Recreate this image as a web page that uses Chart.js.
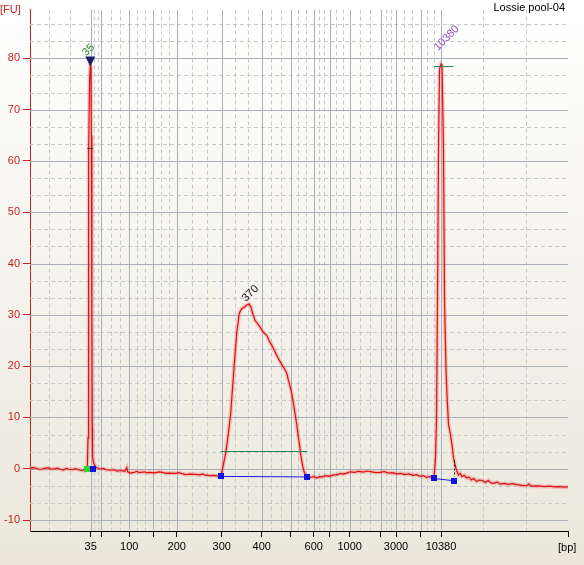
<!DOCTYPE html>
<html>
<head>
<meta charset="utf-8">
<script src="https://cdn.jsdelivr.net/npm/chart.js@4.4.0/dist/chart.umd.min.js"></script>
<style>
  html, body { margin: 0; padding: 0; background: #efede3; }
  canvas { display: block; }
</style>
</head>
<body>
<canvas id="epg" width="584" height="565"></canvas>
<script>
// migration time (s) vs fluorescence (FU)
const migrationTime = [
  20.14, 20.8, 21.4, 22.0, 22.6, 23.2, 23.8, 24.4, 25.0, 25.6, 26.2, 26.8, 27.4, 28.0, 28.6,
  29.2, 29.8, 30.2, 30.6, 31.0, 31.2, 31.6,
  31.74, 31.82, 31.92, 32.06, 32.2, 32.32, 32.42, 32.52, 32.6, 32.66, 32.8, 33.0, 33.34, 33.7,
  34.14, 34.8, 35.4, 36.14, 36.9, 37.6, 38.3, 39.1, 39.5, 39.7, 40.14, 41.0, 41.5, 42.0, 43.0,
  43.6, 44.1, 45.2, 45.9, 46.7, 47.3, 48.0, 49.3, 49.9, 50.6, 51.3, 52.1, 53.2, 54.1, 54.6,
  55.2, 56.1, 57.0, 57.7, 58.28,
  58.7, 59.34, 59.8, 60.28, 60.65, 61.0, 61.48, 62.0, 62.48, 63.0, 63.5, 63.94, 64.3, 64.7,
  65.14, 65.6, 66.14, 66.8, 67.48, 68.0, 68.48, 69.1, 69.8, 70.5, 71.14, 71.5, 71.8, 72.15,
  72.48, 72.8, 73.14, 73.5, 73.8, 74.1, 74.34, 74.7, 75.0, 75.6,
  76.3, 76.9, 77.48, 78.0, 78.6, 79.3, 80.14, 80.8, 81.5, 82.2, 82.8, 83.48, 84.2, 85.0, 85.9,
  86.8, 87.6, 88.5, 89.3, 90.14, 91.0, 91.8, 92.6, 93.48, 94.3, 95.1, 95.9, 96.8, 97.5, 98.2,
  98.8, 99.48, 100.0, 100.5, 100.94,
  101.24, 101.44, 101.64, 101.84, 102.04, 102.34, 102.54, 102.84, 103.04, 103.34, 103.54,
  103.84, 104.14, 104.54, 104.84, 105.34, 105.84, 106.2, 106.5, 107.0, 107.48, 107.9, 108.4,
  108.9, 109.48, 110.0, 110.6, 111.2, 111.8, 112.4, 113.0, 113.6, 114.14, 115.0, 115.8, 116.6,
  117.48, 118.5, 119.48, 119.9, 120.4, 121.8, 123.0, 124.14, 125.0, 126.0, 127.0, 127.74
];
const fluorescence = [
  0.05, 0.2, 0.1, -0.1, -0.05, 0.1, 0.15, -0.1, 0.0, 0.1, -0.1, -0.25, 0.05, -0.1, -0.2,
  0.0, -0.15, -0.3, -0.35, -0.2, -0.4, -0.2,
  6, 30, 62, 75.7, 78.6, 78.2, 65, 30, 8, 2.4, 1.4, 0.8, 0.3, 0.1,
  -0.05, 0.05, -0.2, -0.3, -0.2, -0.45, -0.35, -0.5, 0.2, -0.6, -0.85, -0.7, -0.5, -0.75, -0.6,
  -0.8, -0.7, -0.8, -0.6, -0.7, -0.9, -0.85, -0.9, -0.75, -0.95, -1.15, -1.05, -1.1, -1.2, -1.0,
  -1.25, -1.35, -1.3, -1.45, -1.5,
  0.2, 3.4, 6.8, 10.8, 15.8, 20.5, 26.4, 30.3, 31.2, 31.5, 31.9, 32.1, 31.6, 30.2,
  28.9, 28.4, 27.6, 26.6, 26.0, 24.9, 24.1, 22.9, 21.5, 20.3, 19.3, 18.6, 17.3, 16.1,
  14.7, 12.9, 10.8, 8.5, 6.3, 4.3, 2.4, 0.4, -0.7, -1.6,
  -1.7, -1.5, -1.8, -1.55, -1.6, -1.35, -1.5, -1.2, -1.2, -0.9, -1.05, -0.85, -0.6, -0.7, -0.5,
  -0.65, -0.45, -0.6, -0.75, -0.7, -0.55, -0.85, -0.75, -1.0, -0.9, -1.15, -1.0, -1.3, -1.15, -1.5,
  -1.35, -1.7, -1.5, -1.75, -1.9,
  2.1, 9.5, 32.9, 62, 77.8, 78.9, 78.7, 62, 32.9, 19.2, 14.4,
  8.6, 7.2, 4.7, 2.1, 0.0, -1.2, -0.9, -1.5, -1.3, -1.8, -1.6, -2.2,
  -1.9, -2.5, -2.2, -2.3, -2.7, -2.3, -2.8, -2.8, -2.6, -3.0, -2.85, -3.05, -2.9,
  -3.1, -3.25, -3.3, -3.0, -3.4, -3.35, -3.5, -3.4, -3.55, -3.5, -3.6, -3.55
];

// ladder sizes (bp) and their migration times
const ladderSizes = [35, 50, 100, 150, 200, 300, 400, 500, 600, 700, 1000, 2000, 3000, 7000, 10380];
const ladderTimes = [32.28, 34.4, 40.0, 44.8, 49.48, 58.48, 66.48, 72.28, 76.88, 80.08, 84.08, 90.28, 93.34, 98.28, 102.34];
const shownSizes = [35, 100, 200, 300, 400, 600, 1000, 3000, 10380];
const outerMinorTimes = [24.0, 28.14, 110.8, 119.26];

const yTicks = [-10, 0, 10, 20, 30, 40, 50, 60, 70, 80];

// called peaks
const peakLabels = ['35', '370', '10380'];
const peakTimes = [32.2, 63.94, 102.34];
const peakHeights = [78.4, 32.1, 78.9];

// smear region 300-600 bp and marker baselines
const regionTimes = [58.28, 75.6];
const regionBase = [-1.5, -1.6];
const regionLevel = 3.45;
const upperMarkerTimes = [100.94, 104.94];
const upperMarkerBase = [-1.9, -2.35];

const X_MIN = 20.14, X_MAX = 127.74;
const Y_MIN = -12.14, Y_MAX = 89.5;
const RED = '#cc1f1f';
const FONT = '11px "Liberation Sans", Arial, sans-serif';

const epgPlugin = {
  id: 'epg',
  beforeDraw(chart) {
    const { ctx, width, height } = chart;
    const g = ctx.createLinearGradient(0, 0, 0, height);
    g.addColorStop(0, '#ffffff');
    g.addColorStop(1, '#eae7da');
    ctx.save();
    ctx.fillStyle = g;
    ctx.fillRect(0, 0, width, height);
    ctx.restore();
  },
  beforeDatasetsDraw(chart) {
    const { ctx, chartArea: a, scales: { x, y } } = chart;
    ctx.save();
    ctx.beginPath();
    ctx.rect(a.left, a.top, a.right - a.left, a.bottom - a.top);
    ctx.clip();
    ctx.lineWidth = 1;

    // minor dashed lines
    const minorX = outerMinorTimes.slice();
    for (let i = 0; i < ladderTimes.length - 1; i++) {
      const d = (ladderTimes[i + 1] - ladderTimes[i]) / 3;
      minorX.push(ladderTimes[i] + d, ladderTimes[i] + 2 * d);
    }
    const minorY = [];
    for (let v = -10; v < 90; v += 10) minorY.push(v + 10 / 3, v + 20 / 3);
    minorY.push(-10 - 10 / 3);

    ctx.strokeStyle = '#c8c8c8';
    ctx.setLineDash([4, 3]);
    ctx.beginPath();
    minorX.forEach(t => {
      const px = Math.round(x.getPixelForValue(t)) + 0.5;
      ctx.moveTo(px, a.top); ctx.lineTo(px, a.bottom);
    });
    minorY.forEach(v => {
      const py = Math.round(y.getPixelForValue(v)) + 0.5;
      ctx.moveTo(a.left, py); ctx.lineTo(a.right, py);
    });
    ctx.stroke();

    // major solid lines
    ctx.setLineDash([]);
    ctx.strokeStyle = '#a9b0bc';
    ctx.beginPath();
    ladderTimes.forEach(t => {
      const px = Math.round(x.getPixelForValue(t)) + 0.5;
      ctx.moveTo(px, a.top); ctx.lineTo(px, a.bottom);
    });
    yTicks.forEach(v => {
      const py = Math.round(y.getPixelForValue(v)) + 0.5;
      ctx.moveTo(a.left, py); ctx.lineTo(a.right, py);
    });
    ctx.stroke();
    ctx.restore();
  },
  afterDatasetsDraw(chart) {
    const { ctx, scales: { x, y } } = chart;
    const px = t => x.getPixelForValue(t);
    const py = v => y.getPixelForValue(v);
    ctx.save();

    // region level line (green) and baselines (blue)
    ctx.lineWidth = 1;
    ctx.strokeStyle = '#24885a';
    ctx.beginPath();
    ctx.moveTo(px(regionTimes[0]), Math.round(py(regionLevel)) + 0.5);
    ctx.lineTo(px(regionTimes[1]), Math.round(py(regionLevel)) + 0.5);
    ctx.moveTo(px(upperMarkerTimes[0]), Math.round(py(78.6)) + 0.5);
    ctx.lineTo(px(104.8), Math.round(py(78.6)) + 0.5);
    ctx.stroke();

    ctx.strokeStyle = '#1a1ae0';
    ctx.beginPath();
    ctx.moveTo(px(regionTimes[0]), py(regionBase[0]));
    ctx.lineTo(px(regionTimes[1]), py(regionBase[1]));
    ctx.moveTo(px(upperMarkerTimes[0]), py(upperMarkerBase[0]));
    ctx.lineTo(px(upperMarkerTimes[1]), py(upperMarkerBase[1]));
    ctx.stroke();

    // black dashed drop at end of upper marker
    ctx.strokeStyle = '#111';
    ctx.setLineDash([2, 2]);
    ctx.beginPath();
    ctx.moveTo(Math.round(px(104.86)) + 0.5, py(1.6));
    ctx.lineTo(Math.round(px(104.86)) + 0.5, py(-1.6));
    ctx.stroke();
    ctx.setLineDash([]);

    // half-height tick on lower marker
    ctx.strokeStyle = '#333';
    ctx.beginPath();
    ctx.moveTo(px(31.6), Math.round(py(62.6)) + 0.5);
    ctx.lineTo(px(32.8), Math.round(py(62.6)) + 0.5);
    ctx.stroke();

    // end squares
    const square = (t, v, c) => {
      ctx.fillStyle = c;
      ctx.fillRect(Math.round(px(t)) - 3, Math.round(py(v)) - 3, 6, 6);
    };
    square(31.6, 0, '#27d827');
    square(32.8, 0, '#1010e8');
    square(regionTimes[0], regionBase[0], '#1010e8');
    square(regionTimes[1], regionBase[1], '#1010e8');
    square(upperMarkerTimes[0], upperMarkerBase[0], '#1010e8');
    square(upperMarkerTimes[1], upperMarkerBase[1], '#1010e8');

    // triangle on lower marker
    const tx = px(peakTimes[0]);
    const ty = py(peakHeights[0]);
    ctx.fillStyle = '#1d1d6e';
    ctx.beginPath();
    ctx.moveTo(tx - 5, ty - 10);
    ctx.lineTo(tx + 5, ty - 10);
    ctx.lineTo(tx, ty);
    ctx.closePath();
    ctx.fill();

    // rotated peak labels
    const colors = ['#2a8a2a', '#111111', '#9a4fd0'];
    const offs = [[-4, -10], [-3, -2], [-3, -13]];
    ctx.font = FONT;
    ctx.textAlign = 'left';
    ctx.textBaseline = 'alphabetic';
    peakLabels.forEach((lab, i) => {
      ctx.save();
      ctx.translate(px(peakTimes[i]) + offs[i][0], py(peakHeights[i]) + offs[i][1]);
      ctx.rotate(-Math.PI / 4);
      ctx.fillStyle = colors[i];
      ctx.fillText(lab, 0, 0);
      ctx.restore();
    });
    ctx.restore();
  },
  afterDraw(chart) {
    const { ctx } = chart;
    ctx.save();
    ctx.font = FONT;
    ctx.textBaseline = 'alphabetic';
    ctx.fillStyle = RED;
    ctx.textAlign = 'left';
    ctx.fillText('[FU]', 0, 13);
    ctx.fillStyle = '#000';
    ctx.fillText('[bp]', 558, 551);
    ctx.textAlign = 'right';
    ctx.fillText('Lossie pool-04', 565, 11);
    ctx.restore();
  }
};

new Chart(document.getElementById('epg'), {
  type: 'line',
  data: {
    datasets: [
      {
        data: migrationTime.map((t, i) => ({ x: t, y: fluorescence[i] })),
        borderColor: '#dd0f0f',
        borderWidth: 1.2,
        pointRadius: 0,
        tension: 0
      },
      {
        data: migrationTime.map((t, i) => ({ x: t, y: fluorescence[i] })),
        borderColor: 'rgba(240, 110, 110, 0.35)',
        borderWidth: 4,
        pointRadius: 0,
        tension: 0
      }
    ]
  },
  options: {
    responsive: false,
    animation: false,
    layout: { padding: { top: 8, right: 16, left: 0, bottom: 0 } },
    plugins: { legend: { display: false }, tooltip: { enabled: false } },
    scales: {
      x: {
        type: 'linear',
        min: X_MIN,
        max: X_MAX,
        afterBuildTicks: axis => {
          axis.ticks = ladderTimes.map(v => ({ value: v })).concat([{ value: X_MAX }]);
        },
        afterFit: axis => { axis.height = 34; },
        grid: { drawOnChartArea: false, drawTicks: true, tickLength: 6, tickColor: '#000' },
        border: { color: '#000', width: 1 },
        ticks: {
          autoSkip: false,
          maxRotation: 0,
          padding: 3,
          color: '#000',
          font: { family: '"Liberation Sans", Arial, sans-serif', size: 11 },
          callback: value => {
            const i = ladderTimes.indexOf(value);
            return i >= 0 && shownSizes.includes(ladderSizes[i]) ? String(ladderSizes[i]) : '';
          }
        }
      },
      y: {
        type: 'linear',
        min: Y_MIN,
        max: Y_MAX,
        afterBuildTicks: axis => { axis.ticks = yTicks.map(v => ({ value: v })); },
        afterFit: axis => { axis.width = 30; },
        grid: { drawOnChartArea: false, drawTicks: true, tickLength: 7, tickColor: RED },
        border: { color: RED, width: 1 },
        ticks: {
          padding: 3,
          color: RED,
          font: { family: '"Liberation Sans", Arial, sans-serif', size: 11 }
        }
      }
    }
  },
  plugins: [epgPlugin]
});
</script>
</body>
</html>
